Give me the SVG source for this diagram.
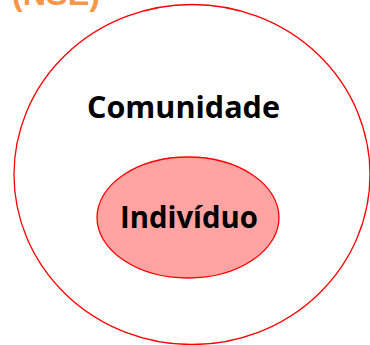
<svg xmlns="http://www.w3.org/2000/svg" width="370" height="345" viewBox="0 0 370 345">
<style>
.lbl{font-family:"Open Sans","Liberation Sans",sans-serif;font-weight:bold;fill:#000;}
.ring{stroke:#FF0000;stroke-width:1.3;}
</style>
<rect width="370" height="345" fill="#fff"/>
<text x="12" y="5" font-family="'Liberation Sans',sans-serif" font-weight="bold" font-size="32" fill="#F79646" textLength="88" lengthAdjust="spacingAndGlyphs">(NSE)</text>
<g id="comunidade">
<ellipse class="ring" cx="192" cy="174.5" rx="178" ry="170" fill="#fff"/>
<text class="lbl" x="87" y="118" font-size="30" textLength="193" lengthAdjust="spacingAndGlyphs">Comunidade</text>
</g>
<g id="individuo">
<ellipse class="ring" cx="188" cy="217.5" rx="91" ry="60.5" fill="#FFA3A3"/>
<text class="lbl" x="120" y="228" font-size="30" textLength="138" lengthAdjust="spacingAndGlyphs">Indivíduo</text>
</g>
<g id="connectors"></g>
</svg>
